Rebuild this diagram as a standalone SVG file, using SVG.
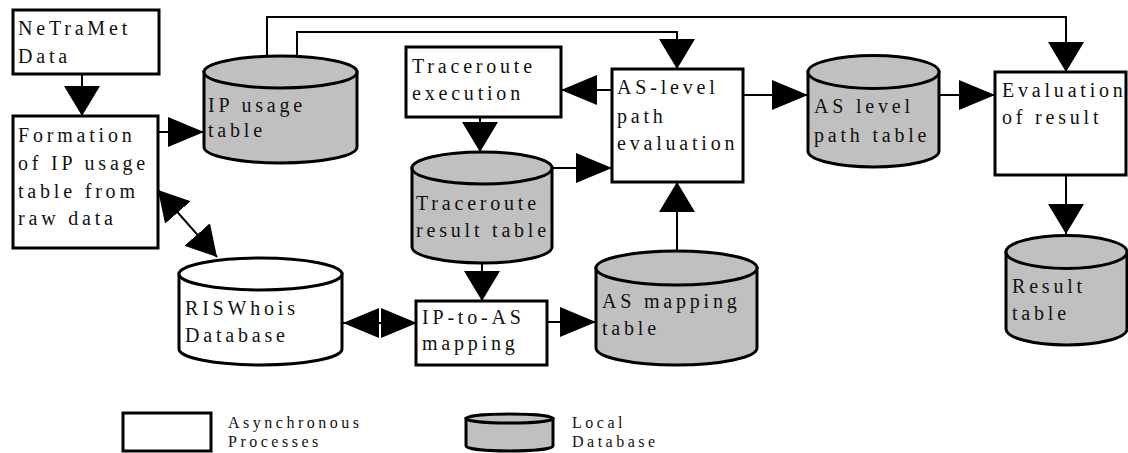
<svg xmlns="http://www.w3.org/2000/svg" width="1128" height="453" viewBox="0 0 1128 453">
<style>
.box{fill:#fff;stroke:#000;stroke-width:3}
.db{fill:#c0c0c0;stroke:#000;stroke-width:3}
.dbw{fill:#fff;stroke:#000;stroke-width:3}
.t{font-family:"Liberation Serif","Times New Roman",serif;font-size:20px;letter-spacing:3.8px;fill:#111}
.lt{font-family:"Liberation Serif","Times New Roman",serif;font-size:16px;letter-spacing:3.5px;fill:#111}
.c{fill:none;stroke:#000;stroke-width:2}
</style>
<defs>
<marker id="ah" markerUnits="userSpaceOnUse" markerWidth="36" markerHeight="30" viewBox="0 0 36 30" refX="36" refY="15" orient="auto-start-reverse"><path d="M0,0 L36,15 L0,30 Z" fill="#000"/></marker>
<marker id="av" markerUnits="userSpaceOnUse" markerWidth="30" markerHeight="36" viewBox="0 0 30 36" refX="30" refY="18" orient="auto-start-reverse"><path d="M0,0 L30,18 L0,36 Z" fill="#000"/></marker>
<marker id="ad" markerUnits="userSpaceOnUse" markerWidth="30" markerHeight="34" viewBox="0 0 30 34" refX="30" refY="17" orient="auto-start-reverse"><path d="M0,0 L30,17 L0,34 Z" fill="#000"/></marker>
</defs>

<g id="connectors">
<path class="c" d="M82,74 V116" marker-end="url(#av)"/>
<path class="c" d="M158,132 H204" marker-end="url(#ah)"/>
<path class="c" d="M158,190 L217,257" marker-start="url(#ad)" marker-end="url(#ad)"/>
<path class="c" d="M267,57 V17 H1066 V72" marker-end="url(#av)"/>
<path class="c" d="M297,57 V32 H677 V69" marker-end="url(#av)"/>
<path class="c" d="M612,90 H561" marker-end="url(#ah)"/>
<path class="c" d="M480,117 V152" marker-end="url(#av)"/>
<path class="c" d="M552,168 H612" marker-end="url(#ah)"/>
<path class="c" d="M482,263 V301" marker-end="url(#av)"/>
<path class="c" d="M380,323 H343" marker-end="url(#ah)"/>
<path class="c" d="M380,323 H417" marker-end="url(#ah)"/>
<path class="c" d="M547,322 H596" marker-end="url(#ah)"/>
<path class="c" d="M677,251 V182" marker-end="url(#av)"/>
<path class="c" d="M740,95 H808" marker-end="url(#ah)"/>
<path class="c" d="M939,95 H995" marker-end="url(#ah)"/>
<path class="c" d="M1066,175 V234" marker-end="url(#av)"/>
</g>

<g id="netramet">
<rect class="box" x="13" y="10" width="146" height="64"/>
<text class="t" x="18" y="35">NeTraMet</text>
<text class="t" x="18" y="63">Data</text>
</g>

<g id="formation">
<rect class="box" x="13" y="116" width="145" height="132"/>
<text class="t" x="18" y="142">Formation</text>
<text class="t" x="18" y="170">of IP usage</text>
<text class="t" x="18" y="198">table from</text>
<text class="t" x="18" y="225">raw data</text>
</g>

<g id="ip-usage-table">
<path class="db" d="M204,72 V147 A76.5,16 0 0 0 357,147 V72 Z"/>
<ellipse class="db" cx="280.5" cy="72" rx="76.5" ry="16"/>
<text class="t" x="208" y="112">IP usage</text>
<text class="t" x="208" y="137">table</text>
</g>

<g id="traceroute-execution">
<rect class="box" x="406" y="47" width="155" height="70"/>
<text class="t" x="412" y="73">Traceroute</text>
<text class="t" x="412" y="100">execution</text>
</g>

<g id="traceroute-result-table">
<path class="db" d="M412,168 V247 A70,16 0 0 0 552,247 V168 Z"/>
<ellipse class="db" cx="482" cy="168" rx="70" ry="16"/>
<text class="t" x="416" y="210">Traceroute</text>
<text class="t" x="416" y="237">result table</text>
</g>

<g id="as-level-path-evaluation">
<rect class="box" x="612" y="69" width="131" height="113"/>
<text class="t" x="617" y="94">AS-level</text>
<text class="t" x="617" y="123">path</text>
<text class="t" x="617" y="150">evaluation</text>
</g>

<g id="as-level-path-table">
<path class="db" d="M808,72 V151 A65.5,16 0 0 0 939,151 V72 Z"/>
<ellipse class="db" cx="873.5" cy="72" rx="65.5" ry="16.5"/>
<text class="t" x="814" y="113">AS level</text>
<text class="t" x="814" y="142">path table</text>
</g>

<g id="evaluation-of-result">
<rect class="box" x="995" y="72" width="131" height="103"/>
<text class="t" x="1002" y="97">Evaluation</text>
<text class="t" x="1002" y="124">of result</text>
</g>

<g id="result-table">
<path class="db" d="M1006,252 V329 A60.5,16 0 0 0 1127,329 V252 Z"/>
<ellipse class="db" cx="1066.5" cy="252" rx="60.5" ry="16.5"/>
<text class="t" x="1012" y="293">Result</text>
<text class="t" x="1012" y="320">table</text>
</g>

<g id="riswhois-database">
<path class="dbw" d="M179,274 V349 A81.5,16 0 0 0 342,349 V274 Z"/>
<ellipse class="dbw" cx="260.5" cy="274" rx="81.5" ry="16"/>
<text class="t" x="185" y="315">RISWhois</text>
<text class="t" x="185" y="342">Database</text>
</g>

<g id="ip-to-as-mapping">
<rect class="box" x="416" y="301" width="131" height="64"/>
<text class="t" x="422" y="324">IP-to-AS</text>
<text class="t" x="422" y="350">mapping</text>
</g>

<g id="as-mapping-table">
<path class="db" d="M596,268 V348 A80.5,17 0 0 0 757,348 V268 Z"/>
<ellipse class="db" cx="676.5" cy="268" rx="80.5" ry="17"/>
<text class="t" x="602" y="308">AS mapping</text>
<text class="t" x="602" y="335">table</text>
</g>

<g id="legend-process">
<rect class="box" x="123" y="413" width="88" height="38"/>
<text class="lt" x="228" y="428">Asynchronous</text>
<text class="lt" x="228" y="447">Processes</text>
</g>

<g id="legend-database">
<path class="db" d="M466,418.5 V446 A43.5,5 0 0 0 553,446 V418.5 Z"/>
<ellipse class="db" cx="509.5" cy="418.5" rx="43.5" ry="4.5"/>
<text class="lt" x="572" y="428">Local</text>
<text class="lt" x="572" y="447">Database</text>
</g>
</svg>
